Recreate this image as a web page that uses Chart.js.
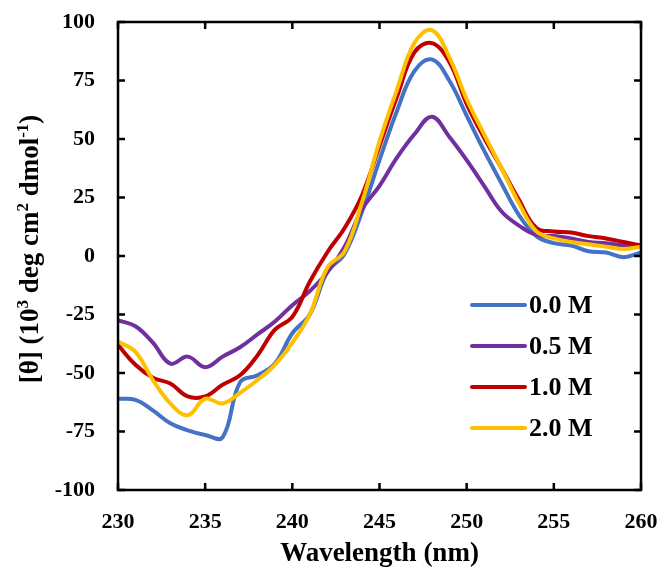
<!DOCTYPE html>
<html><head><meta charset="utf-8">
<script src="https://cdn.jsdelivr.net/npm/chart.js@4"></script>
<style>html,body{margin:0;padding:0;background:#fff}#wrap{width:664px;height:573px;position:relative}</style>
</head><body><div id="wrap"><canvas id="c"></canvas></div>
<script>
const wavelengths = [230,231,232,233,234,235,236,237,238,239,240,241,242,243,244,245,246,247,248,249,250,251,252,253,254,255,256,257,258,259,260];
const seriesLabels = ['0.0 M','0.5 M','1.0 M','2.0 M'];
const theta_0_0M = [-61,-61.5,-66,-71.5,-74.5,-76.5,-77.5,-54,-51,-46,-33,-25,-7,1,19,41,62,79,84,75,60,45,31,17.5,8.5,5.5,4.5,2,1.5,-0.5,1.5];
const theta_0_5M = [-27.5,-30,-37,-46,-43,-47.5,-43,-39,-33.5,-28,-21,-15,-7,4,20,30,42,52,59.5,51,41,30,19,13,9,8.5,7.5,6,5.5,4.5,4.5];
const theta_1_0M = [-38,-46.5,-52,-54.5,-60,-60,-55,-51,-42.5,-31.5,-26,-11,1.5,12,26,47,68,87,91,83,65,50.5,37.5,24,12,10.5,10,8.5,7.5,6,4.5];
const theta_2_0M = [-36.5,-41,-53,-63,-68,-61,-63,-58.5,-53,-46.5,-37,-25,-5,2,23,49,71,91,96.5,85,67,52,37.5,22.5,10.5,7.5,6,5,4,3,4];
const xTicks = [230,235,240,245,250,255,260];
const yTicks = [-100,-75,-50,-25,0,25,50,75,100];
const yTitleParts = [['[θ] (10',0],['3',1],[' deg cm',0],['2',1],[' dmol',0],['-1',1],[')',0]];

const colors = ['#4472C4','#7030A0','#C00000','#FFC000'];
const allSeries = [theta_0_0M, theta_0_5M, theta_1_0M, theta_2_0M];
const FONT = "'Liberation Serif','Times New Roman',serif";

const datasets = allSeries.map((s,i)=>({
  label: seriesLabels[i],
  data: wavelengths.map((w,j)=>({x:w,y:s[j]})),
  borderColor: colors[i],
  backgroundColor: colors[i],
  borderWidth: 4,
  pointRadius: 0,
  tension: 0.4,
  fill: false,
  order: 4 - i
}));

const frame = {
  id:'frame',
  afterDraw(chart){
    const {ctx, chartArea:a, scales} = chart;
    ctx.save();
    ctx.strokeStyle='#000';
    ctx.lineWidth=2.5;
    ctx.strokeRect(a.left,a.top,a.right-a.left,a.bottom-a.top);
    const L=7;
    ctx.beginPath();
    xTicks.forEach(v=>{
      const px=scales.x.getPixelForValue(v);
      ctx.moveTo(px,a.bottom); ctx.lineTo(px,a.bottom-L);
      ctx.moveTo(px,a.top); ctx.lineTo(px,a.top+L);
    });
    yTicks.forEach(v=>{
      const py=scales.y.getPixelForValue(v);
      ctx.moveTo(a.left,py); ctx.lineTo(a.left+L,py);
      ctx.moveTo(a.right,py); ctx.lineTo(a.right-L,py);
    });
    ctx.stroke();
    // y title with superscripts
    const big="bold 27px "+FONT, small="bold 17px "+FONT;
    let total=0;
    yTitleParts.forEach(([t,sup])=>{ctx.font=sup?small:big; total+=ctx.measureText(t).width;});
    ctx.translate(29, 249);
    ctx.rotate(-Math.PI/2);
    ctx.fillStyle='#000';
    ctx.textBaseline='alphabetic';
    ctx.textAlign='left';
    let x=-total/2;
    yTitleParts.forEach(([t,sup])=>{
      ctx.font=sup?small:big;
      ctx.fillText(t,x,sup?-1:9);
      x+=ctx.measureText(t).width;
    });
    ctx.setTransform(1,0,0,1,0,0);
    // legend
    const lx0=472, lx1=525, ly0=305, dy=41;
    chart.data.datasets.forEach((d,i)=>{
      const y=ly0+i*dy;
      ctx.strokeStyle=d.borderColor;
      ctx.lineWidth=4;
      ctx.lineCap='round';
      ctx.beginPath(); ctx.moveTo(lx0,y); ctx.lineTo(lx1,y); ctx.stroke();
      ctx.fillStyle='#000';
      ctx.font="bold 26px "+FONT;
      ctx.textBaseline='middle';
      ctx.textAlign='left';
      ctx.fillText(d.label,lx1+4,y+1);
    });
    ctx.restore();
  }
};

new Chart(document.getElementById('c'),{
  type:'line',
  data:{datasets},
  options:{
    responsive:true,
    maintainAspectRatio:false,
    animation:false,
    layout:{padding:{left:0,right:23,top:22,bottom:0}, autoPadding:false},
    plugins:{legend:{display:false},tooltip:{enabled:false}},
    scales:{
      x:{
        type:'linear', min:230, max:260,
        afterBuildTicks(s){ s.ticks = xTicks.map(v=>({value:v})); },
        afterFit(s){ s.height = 83; s.paddingLeft = 0; s.paddingRight = 0; },
        grid:{display:false, drawTicks:false},
        border:{display:false},
        ticks:{color:'#000', font:{family:FONT,size:22,weight:'bold'}, padding:19, maxRotation:0, autoSkip:false},
        title:{display:true, text:'Wavelength (nm)', color:'#000', font:{family:FONT,size:27,weight:'bold'}, padding:{top:3,bottom:3}}
      },
      y:{
        type:'linear', min:-100, max:100,
        afterBuildTicks(s){ s.ticks = yTicks.map(v=>({value:v})); },
        afterFit(s){ s.width = 118; s.paddingTop = 0; s.paddingBottom = 0; },
        grid:{display:false, drawTicks:false},
        border:{display:false},
        ticks:{color:'#000', font:{family:FONT,size:22,weight:'bold'}, padding:23, autoSkip:false},
        title:{display:false}
      }
    }
  },
  plugins:[frame]
});
</script></body></html>
